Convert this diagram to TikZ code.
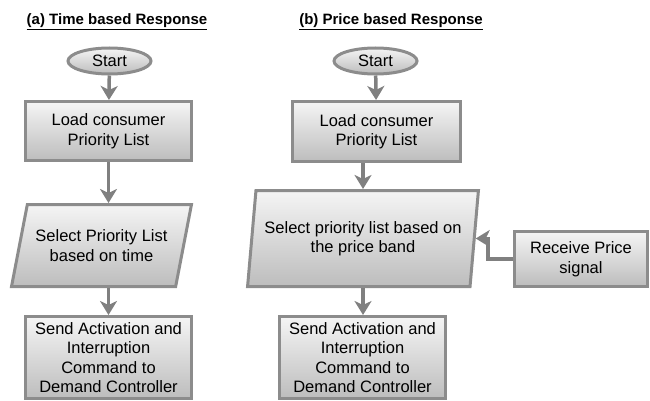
\documentclass[tikz,border=0pt]{standalone}
\usepackage{fontspec}
\setmainfont{Liberation Sans}
\usetikzlibrary{positioning}
\usetikzlibrary{arrows.meta}
\usetikzlibrary{shapes.geometric}

\tikzset{
	block/.style={draw=black!45, line width=3pt, top color=black!4, bottom color=black!26, align=center, inner sep=0pt, font=\fontsize{16.5}{19.5}\selectfont},
	startnode/.style={block, ellipse, minimum width=83pt, minimum height=26pt},
	procbox/.style={block, rectangle, minimum width=#1},
	iobox/.style={block, trapezium, trapezium stretches=true, trapezium left angle=#1, trapezium right angle=180-#1},
	heading/.style={font=\fontsize{15}{18}\bfseries\selectfont, anchor=base},
	flow/.style={draw=black!50, line width=3.5pt, -{Stealth[length=14pt,width=17pt,inset=4pt]}},
}

\begin{document}
\begin{tikzpicture}[x=1pt,y=-1pt]
		\useasboundingbox (0,0) rectangle (650,401);

		\node[heading] (ta) at (117,25) {\underline{(a) Time based Response}};
		\node[heading] (tb) at (391,25) {\underline{(b) Price based Response}};

		\node[startnode] (starta) at (109.5,61) {Start};
		\node[procbox=166pt, minimum height=59pt] (loada) at (108.5,131) {Load consumer\\Priority List};
		\node[iobox=66, minimum width=180pt, minimum height=82pt] (sela) at (101.5,245.5) {Select Priority List\\based on time};
		\node[procbox=166pt, minimum height=82pt] (senda) at (108.5,357.5) {Send Activation and\\Interruption\\Command to\\Demand Controller};

		\draw[flow] (starta) -- (loada);
		\draw[flow] (loada.south) -- (loada.south |- sela.north);
		\draw[flow] (sela.south -| senda.north) -- (senda.north);

		\node[startnode] (startb) at (375.5,61) {Start};
		\node[procbox=168pt, minimum height=60pt] (loadb) at (376.5,131.5) {Load consumer\\Priority List};
		\node[iobox=77.5, minimum width=231pt, minimum height=96pt] (selb) at (363,238.5) {Select priority list based on\\the price band};
		\node[procbox=166pt, minimum height=82pt] (sendb) at (362.5,357.5) {Send Activation and\\Interruption\\Command to\\Demand Controller};
		\node[procbox=133pt, minimum height=55pt] (price) at (581,259) {Receive Price\\signal};

		\draw[flow] (startb) -- (loadb);
		\draw[flow] (loadb.south -| selb.north) -- (selb.north);
		\draw[flow] (selb.south) -- (selb.south |- sendb.north);
		\draw[flow] (price.west) -- ++(-25,0) |- (selb.east);
	\end{tikzpicture}
\end{document}
